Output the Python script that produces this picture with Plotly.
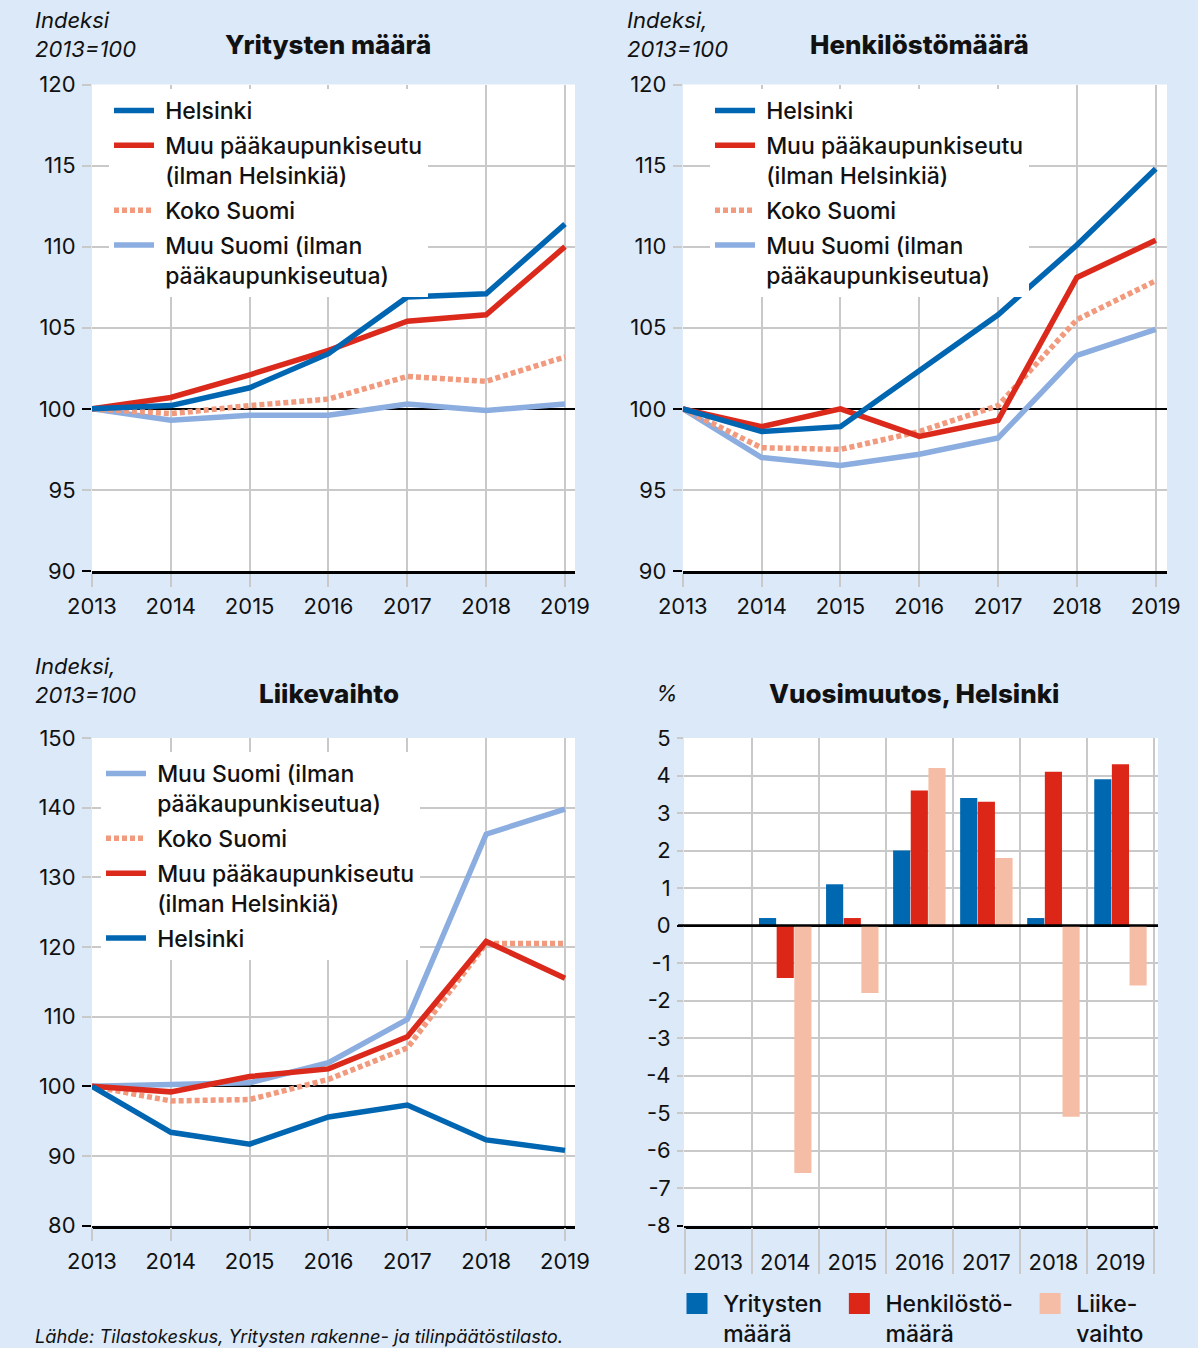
import plotly.graph_objects as go

W, H = 1198, 1348

years = [2013, 2014, 2015, 2016, 2017, 2018, 2019]

# Yritysten määrä (index 2013=100)
yr_hki = [100, 100.2, 101.3, 103.4, 106.9, 107.1, 111.4]
yr_muu_pk = [100, 100.7, 102.1, 103.6, 105.4, 105.8, 110.0]
yr_koko = [100, 99.7, 100.2, 100.6, 102.0, 101.7, 103.2]
yr_muu_suomi = [100, 99.3, 99.6, 99.6, 100.3, 99.9, 100.3]

# Henkilöstömäärä (index 2013=100)
hk_hki = [100, 98.6, 98.9, 102.4, 105.8, 110.1, 114.8]
hk_muu_pk = [100, 98.9, 100.0, 98.3, 99.3, 108.1, 110.4]
hk_koko = [100, 97.6, 97.5, 98.6, 100.2, 105.5, 107.9]
hk_muu_suomi = [100, 97.0, 96.5, 97.2, 98.2, 103.3, 104.9]

# Liikevaihto (index 2013=100)
lv_muu_suomi = [100, 100.2, 100.5, 103.4, 109.6, 136.2, 139.8]
lv_koko = [100, 97.9, 98.1, 101.0, 105.5, 120.5, 120.5]
lv_muu_pk = [100, 99.2, 101.4, 102.5, 107.1, 120.8, 115.5]
lv_hki = [100, 93.4, 91.7, 95.6, 97.3, 92.3, 90.8]

# Vuosimuutos, Helsinki (%)
chg_yritys = [None, 0.2, 1.1, 2.0, 3.4, 0.2, 3.9]
chg_henk = [None, -1.4, 0.2, 3.6, 3.3, 4.1, 4.3]
chg_lv = [None, -6.6, -1.8, 4.2, 1.8, -5.1, -1.6]

bar_tickvals = [5, 4, 3, 2, 1, 0, -1, -2, -3, -4, -5, -6, -7, -8]
bar_ticktext = ["5", "4", "3", "2", "1", "0", "-1", "-2", "-3", "-4", "-5", "-6", "-7", "-8"]
sep_vals = [2012.5, 2013.5, 2014.5, 2015.5, 2016.5, 2017.5, 2018.5, 2019.5]
ref_top = [90, 100]
ref_lv = [80, 100]
ref_bar = [-8, 0]

NB = "\u00a0"
name_hki = NB + "Helsinki"
name_muu_pk = NB + "Muu pääkaupunkiseutu<br>" + NB + "(ilman Helsinkiä)"
name_koko = NB + "Koko Suomi"
name_muu_suomi = NB + "Muu Suomi (ilman<br>" + NB + "pääkaupunkiseutua)"
bar_names = [NB + "Yritysten" + NB * 2 + "<br>" + NB + "määrä",
             NB + "Henkilöstö-" + NB * 2 + "<br>" + NB + "määrä",
             NB + "Liike-<br>" + NB + "vaihto"]

C_HKI = "#0066B2"
C_PK = "#DB2A1B"
C_KOKO = "#F29A7D"
C_MS = "#8BADDF"
C_BAR_B = "#0067B1"
C_BAR_R = "#DC2617"
C_BAR_P = "#F5BDA5"
BG = "#DCE9F8"
GRID = "#C9C9C9"
FONT = "Inter"
TXT = "#111111"


def px_x(p):
    return p / W


def px_y(p):
    return 1 - p / H


fig = go.Figure()

styles = {
    "hki": dict(color=C_HKI, width=5.5),
    "pk": dict(color=C_PK, width=5.5),
    "koko": dict(color=C_KOKO, width=5.5, dash="5px,3px"),
    "ms": dict(color=C_MS, width=5.5),
}


def add_line(y, name, key, xa, ya, leg, rank):
    fig.add_trace(go.Scatter(
        x=years, y=y, name=name, mode="lines", line=styles[key],
        xaxis=xa, yaxis=ya, legend=leg, legendrank=rank,
        legendgroup=f"{leg}-{key}", hoverinfo="skip"))


# anchors for the overlaid reference axes (no visible data)
for xa, ya in [("x", "y5"), ("x2", "y6"), ("x3", "y7"), ("x4", "y8")]:
    fig.add_trace(go.Scatter(x=[None], y=[None], xaxis=xa, yaxis=ya, mode="lines",
                             showlegend=False, hoverinfo="skip"))

# subplot 1
add_line(yr_muu_suomi, name_muu_suomi, "ms", "x", "y", "legend", 4)
add_line(yr_koko, name_koko, "koko", "x", "y", "legend", 3)
add_line(yr_muu_pk, name_muu_pk, "pk", "x", "y", "legend", 2)
add_line(yr_hki, name_hki, "hki", "x", "y", "legend", 1)
# subplot 2
add_line(hk_muu_suomi, name_muu_suomi, "ms", "x2", "y2", "legend2", 4)
add_line(hk_koko, name_koko, "koko", "x2", "y2", "legend2", 3)
add_line(hk_muu_pk, name_muu_pk, "pk", "x2", "y2", "legend2", 2)
add_line(hk_hki, name_hki, "hki", "x2", "y2", "legend2", 1)
# subplot 3
add_line(lv_muu_suomi, name_muu_suomi, "ms", "x3", "y3", "legend3", 1)
add_line(lv_koko, name_koko, "koko", "x3", "y3", "legend3", 2)
add_line(lv_muu_pk, name_muu_pk, "pk", "x3", "y3", "legend3", 3)
add_line(lv_hki, name_hki, "hki", "x3", "y3", "legend3", 4)

# subplot 4 bars
for vals, col, nm in zip([chg_yritys, chg_henk, chg_lv], [C_BAR_B, C_BAR_R, C_BAR_P], bar_names):
    fig.add_trace(go.Bar(x=years, y=vals, marker=dict(color=col, line=dict(width=0)),
                         xaxis="x4", yaxis="y4", showlegend=False, name=nm, hoverinfo="skip"))
for col, nm in zip([C_BAR_B, C_BAR_R, C_BAR_P], bar_names):
    fig.add_trace(go.Scatter(x=[None], y=[None], mode="markers", name=nm,
                             marker=dict(symbol="square", size=16, color=col,
                                         line=dict(width=10, color=col)),
                             xaxis="x4", yaxis="y4", legend="legend4", hoverinfo="skip"))

tickfont = dict(family=FONT, size=22, color=TXT)


def xaxis_line(domain, rng, anchor):
    return dict(domain=domain, range=rng, anchor=anchor, tickmode="array", tickvals=years,
                showgrid=True, gridcolor=GRID, gridwidth=1.5, ticks="outside", ticklen=13,
                tickcolor=GRID, tickwidth=1.5, tickfont=tickfont, zeroline=False,
                showline=True, linecolor="black", linewidth=2.5,
                ticklabelstandoff=1, fixedrange=True, automargin=False)


def yaxis_line(domain, rng, anchor, dtick):
    return dict(domain=domain, range=rng, anchor=anchor, dtick=dtick, tick0=rng[0],
                showgrid=True, gridcolor=GRID, gridwidth=1.5, ticks="outside", ticklen=9,
                tickcolor=GRID, tickwidth=1.5, tickfont=tickfont, zeroline=False,
                showline=False, ticklabelstandoff=2, fixedrange=True, automargin=False)


def yaxis_ref(over, anchor, rng, vals, ticklen):
    # black reference gridlines drawn by an overlaid axis
    return dict(overlaying=over, anchor=anchor, range=rng, tickmode="array", tickvals=vals,
                showticklabels=False, showgrid=True, gridcolor="black", gridwidth=2.2,
                ticks="outside", ticklen=ticklen, tickcolor="black", tickwidth=2.4,
                zeroline=False, showline=False, fixedrange=True, automargin=False)


top_dom = [px_y(571), px_y(84.5)]
bot_dom = [px_y(1225.6), px_y(738)]
left_dom = [px_x(92), px_x(575)]
right_dom = [px_x(682.8), px_x(1167)]
bar_dom = [px_x(684), px_x(1158)]

legend_common = dict(bgcolor="white", borderwidth=0, xanchor="left", yanchor="top",
                     valign="top", font=dict(family=FONT, size=23, color=TXT, weight=500),
                     itemwidth=40, tracegroupgap=2, traceorder="grouped")

fig.update_layout(
    template="none",
    width=W, height=H, autosize=False,
    margin=dict(l=0, r=0, t=0, b=0, pad=0, autoexpand=False),
    paper_bgcolor=BG, plot_bgcolor="white",
    font=dict(family=FONT, color=TXT),
    barmode="group", bargap=0.21, bargroupgap=0.03,
    xaxis=xaxis_line(left_dom, [2013, 2019.127], "y"),
    yaxis=yaxis_line(top_dom, [90, 120], "x", 5),
    xaxis2=xaxis_line(right_dom, [2013, 2019.143], "y2"),
    yaxis2=yaxis_line(top_dom, [90, 120], "x2", 5),
    xaxis3=xaxis_line(left_dom, [2013, 2019.127], "y3"),
    yaxis3=yaxis_line(bot_dom, [80, 150], "x3", 10),
    xaxis4=dict(domain=bar_dom, range=[2012.49, 2019.56], anchor="y4", tickmode="array",
                tickvals=years, showgrid=False, ticks="", tickfont=tickfont, zeroline=False,
                showline=True, linecolor="black", linewidth=2.5,
                ticklabelstandoff=15, fixedrange=True, automargin=False,
                minor=dict(tickmode="array", tickvals=sep_vals, showgrid=True,
                           gridcolor=GRID, gridwidth=1.5, ticks="outside", ticklen=46,
                           tickcolor=GRID, tickwidth=1.5)),
    yaxis4=dict(domain=bot_dom, range=[-8, 5], anchor="x4", tickmode="array",
                tickvals=bar_tickvals, ticktext=bar_ticktext, showgrid=True,
                gridcolor=GRID, gridwidth=1.5, ticks="outside", ticklen=6, tickcolor=GRID,
                tickwidth=1.5, tickfont=tickfont, zeroline=False, showline=False,
                ticklabelstandoff=2, fixedrange=True, automargin=False),
    yaxis5=yaxis_ref("y", "x", [90, 120], ref_top, 9),
    yaxis6=yaxis_ref("y2", "x2", [90, 120], ref_top, 9),
    yaxis7=yaxis_ref("y3", "x3", [80, 150], ref_lv, 9),
    yaxis8=yaxis_ref("y4", "x4", [-8, 5], ref_bar, 6),
    legend=dict(legend_common, x=px_x(109), y=px_y(89)),
    legend2=dict(legend_common, x=px_x(710), y=px_y(89)),
    legend3=dict(legend_common, x=px_x(101), y=px_y(752)),
    legend4=dict(bgcolor="rgba(0,0,0,0)", borderwidth=0, orientation="h",
                 xanchor="left", yanchor="top", valign="top",
                 x=px_x(677), y=px_y(1282),
                 font=dict(family=FONT, size=23, color=TXT, weight=500),
                 itemwidth=30, tracegroupgap=0),
    showlegend=True,
)

fig.update_layout(shapes=[
    dict(type="line", xref="x4 domain", yref="y4", x0=-6 / 474, x1=1.0, y0=0, y1=0,
         line=dict(color="black", width=2.5), layer="above"),
])

ann = []
unit_font = dict(family=FONT, size=22, color=TXT)
title_font = dict(family=FONT, size=26, color=TXT, weight=800)
for x, y, t in [(33, 5, "<i>Indeksi</i><br><i>2013=100</i>"),
                (625, 5, "<i>Indeksi,</i><br><i>2013=100</i>"),
                (33, 651, "<i>Indeksi,</i><br><i>2013=100</i>")]:
    ann.append(dict(x=px_x(x), y=px_y(y), xref="paper", yref="paper", text=t,
                    showarrow=False, xanchor="left", yanchor="top", align="left",
                    font=unit_font))
ann.append(dict(x=px_x(654), y=px_y(693), xref="paper", yref="paper", text="<i>%</i>",
                showarrow=False, xanchor="left", yanchor="middle", font=unit_font))
for x, y, t in [(328, 45, "Yritysten määrä"), (919, 45, "Henkilöstömäärä"),
                (329, 693, "Liikevaihto"), (914, 693, "Vuosimuutos, Helsinki")]:
    ann.append(dict(x=px_x(x), y=px_y(y), xref="paper", yref="paper", text=t,
                    showarrow=False, xanchor="center", yanchor="middle", font=title_font))
ann.append(dict(x=px_x(33), y=px_y(1336), xref="paper", yref="paper",
                text="<i>Lähde: Tilastokeskus, Yritysten rakenne- ja tilinpäätöstilasto.</i>",
                showarrow=False, xanchor="left", yanchor="middle",
                font=dict(family=FONT, size=18.3, color=TXT)))
fig.update_layout(annotations=ann)

fig.write_html("out.html", config={"displayModeBar": False, "responsive": False},
               post_script="document.body.style.margin='0px';document.body.style.overflow='hidden';")
